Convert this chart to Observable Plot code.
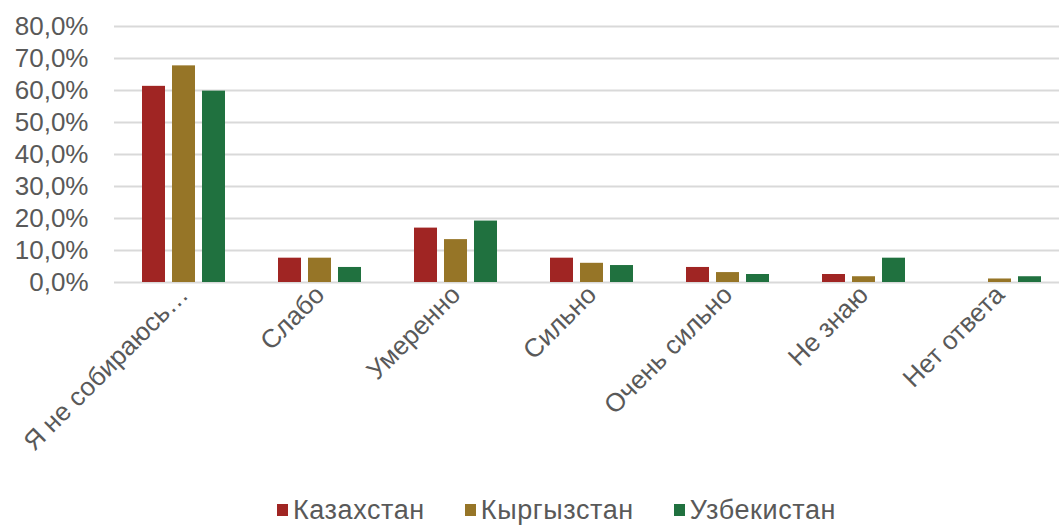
<!DOCTYPE html>
<html>
<head>
<meta charset="utf-8">
<script src="https://cdn.jsdelivr.net/npm/d3@7"></script>
<script src="https://cdn.jsdelivr.net/npm/@observablehq/plot@0.6"></script>
<style>
  html, body { margin: 0; padding: 0; background: #fff; }
  body { width: 1059px; height: 525px; overflow: hidden; font-family: "Liberation Sans", Arial, sans-serif; }
  #chart svg { display: block; }
  #legend { display: flex; justify-content: center; align-items: center; gap: 40px; height: 30px; margin-top: 7px; line-height: 1; color: #595959; font-size: 27px; letter-spacing: 0.6px; margin-left: 54px; }
  #legend .item { display: flex; align-items: center; gap: 5px; }
  #legend .sw { width: 11px; height: 12px; display: inline-block; }
</style>
</head>
<body>
<div id="chart"></div>
<div id="legend"></div>
<script>
const categories = ["Я не собираюсь…", "Слабо", "Умеренно", "Сильно", "Очень сильно", "Не знаю", "Нет ответа"];
const seriesNames = ["Казахстан", "Кыргызстан", "Узбекистан"];
const seriesColors = ["#A02523", "#967527", "#20713F"];
const kazakhstan = [61.3, 7.6, 17.0, 7.6, 4.7, 2.5, 0];
const kyrgyzstan = [67.7, 7.6, 13.4, 6.0, 3.1, 1.8, 1.1];
const uzbekistan = [59.8, 4.7, 19.2, 5.3, 2.5, 7.6, 1.8];
const yTicks = [0, 10, 20, 30, 40, 50, 60, 70, 80];

const seriesValues = [kazakhstan, kyrgyzstan, uzbekistan];
const offsets = [-30, 0, 30];
const toRows = (vals) => categories.map((c, i) => ({category: c, value: vals[i]}));

const fmt = d => d.toFixed(1).replace(".", ",") + "%";

const chart = Plot.plot({
  width: 1059,
  height: 488,
  marginLeft: 114,
  marginRight: 0,
  marginTop: 26,
  marginBottom: 206,
  style: {fontFamily: "'Liberation Sans', Arial, sans-serif", background: "#fff"},
  x: {domain: categories, range: [114, 1068], paddingInner: 0.831, paddingOuter: 0.4155, label: null},
  y: {domain: [0, 80], label: null},
  marks: [
    Plot.ruleY(yTicks, {stroke: "#d9d9d9", strokeWidth: 2}),
    ...seriesValues.map((vals, i) => Plot.barY(toRows(vals), {x: "category", y: "value", fill: seriesColors[i], dx: offsets[i]})),
    Plot.axisY(yTicks, {tickSize: 0, tickPadding: 26, tickFormat: fmt, fontSize: 26, fill: "#595959", label: null, style: {letterSpacing: "1px"}}),
    Plot.axisX({tickSize: 0, tickPadding: 8, tickRotate: -45, fontSize: 26, fill: "#595959", label: null, style: {letterSpacing: "0.8px"}})
  ]
});
document.getElementById("chart").appendChild(chart);

const legend = document.getElementById("legend");
seriesNames.forEach((name, i) => {
  const item = document.createElement("span");
  item.className = "item";
  const sw = document.createElement("span");
  sw.className = "sw";
  sw.style.background = seriesColors[i];
  const t = document.createElement("span");
  t.textContent = name;
  item.appendChild(sw);
  item.appendChild(t);
  legend.appendChild(item);
});
</script>
</body>
</html>
